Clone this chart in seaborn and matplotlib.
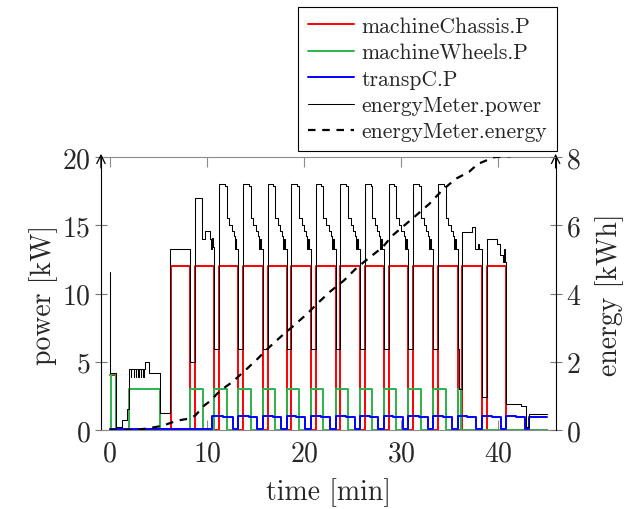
import matplotlib
matplotlib.use('Agg')
import matplotlib.pyplot as plt
import seaborn as sns
import pandas as pd

# step series: each value holds from its time until the next one (time in min, power in kW)
chassis_t = [0, 0.65, 6.3, 8.3, 8.8, 10.75, 11.25, 13.25, 13.75, 15.75, 16.25, 18.2, 18.7,
             20.7, 21.2, 23.25, 23.75, 25.75, 26.25, 28.2, 28.7, 30.75, 31.25, 33.3, 33.8,
             35.8, 36.3, 38.3, 38.8, 40.8, 45.0]
chassis_kw = [4.0, 0, 12, 0, 12, 0, 12, 0, 12, 0, 12, 0, 12,
              0, 12, 0, 12, 0, 12, 0, 12, 0, 12, 0, 12,
              0, 12, 0, 12, 0, 0]

wheels_t = [0, 0.1, 0.65, 1.95, 5.2, 8.3, 9.6, 10.75, 12.05, 13.25, 14.55, 15.75, 17.05,
            18.2, 19.5, 20.7, 22.0, 23.25, 24.55, 25.75, 27.05, 28.2, 29.5, 30.75, 32.05,
            33.3, 34.6, 35.8, 36.15, 45.0]
wheels_kw = [0, 4.1, 0, 3, 0, 3, 0, 3, 0, 3, 0, 3, 0,
             3, 0, 3, 0, 3, 0, 3, 0, 3, 0, 3, 0,
             3, 0, 3, 0, 0]

transp_t = [0, 10.5, 11.7, 12.7, 13.25, 14.3, 15.2, 15.75, 16.8, 17.65, 18.2, 19.2, 20.15,
            20.7, 21.7, 22.7, 23.25, 24.3, 25.2, 25.75, 26.8, 27.65, 28.2, 29.2, 30.2,
            30.75, 31.8, 32.75, 33.3, 34.3, 35.25, 35.8, 36.8, 37.75, 38.3, 39.3, 40.3,
            40.8, 41.8, 42.75, 43.2, 45.0]
transp_kw = [0.1, 1.05, 0.95, 0.1, 1.05, 0.95, 0.1, 1.05, 0.95, 0.1, 1.05, 0.95, 0.1,
             1.05, 0.95, 0.1, 1.05, 0.95, 0.1, 1.05, 0.95, 0.1, 1.05, 0.95, 0.1,
             1.05, 0.95, 0.1, 1.05, 0.95, 0.1, 1.05, 0.95, 0.1, 1.05, 0.95, 0.1,
             1.05, 0.95, 0.1, 0.95, 0.95]

meter_t = [0, 0.06, 0.65, 1.25, 1.75,
           1.95, 2.2, 2.23, 2.45, 2.48, 2.7, 2.73, 2.95, 2.98, 3.2, 3.23, 3.45, 3.48,
           3.66, 4.05, 5.2, 6.25, 8.3,
           8.8, 9.55, 9.8, 10.35, 10.45, 10.55, 10.65, 10.75,
           11.25, 11.85, 12.05, 12.3, 12.6, 12.75, 12.85, 12.95, 13.05, 13.25,
           13.75, 14.35, 14.55, 14.8, 15.05, 15.25, 15.35, 15.45, 15.55, 15.75,
           16.25, 16.85, 17.05, 17.3, 17.55, 17.7, 17.8, 17.9, 18.0, 18.2,
           18.7, 19.3, 19.5, 19.75, 20.0, 20.2, 20.3, 20.4, 20.5, 20.7,
           21.2, 21.8, 22.0, 22.25, 22.55, 22.75, 22.85, 22.95, 23.05, 23.25,
           23.75, 24.35, 24.55, 24.8, 25.05, 25.25, 25.35, 25.45, 25.55, 25.75,
           26.25, 26.85, 27.05, 27.3, 27.55, 27.7, 27.8, 27.9, 28.0, 28.2,
           28.7, 29.3, 29.5, 29.75, 30.0, 30.25, 30.35, 30.45, 30.55, 30.75,
           31.25, 31.85, 32.05, 32.3, 32.6, 32.8, 32.9, 33.0, 33.1, 33.3,
           33.8, 34.4, 34.6, 34.85, 35.1, 35.3, 35.4, 35.5, 35.6, 35.8, 35.95,
           36.3, 37.3, 37.65, 37.9, 38.0, 38.3,
           38.8, 39.9, 40.2, 40.5, 40.6, 40.65, 40.8,
           42.3, 42.8, 43.15, 45.0]
meter_kw = [11.6, 4.15, 0.2, 0.7, 1.5,
            4.5, 3.9, 4.5, 3.9, 4.5, 3.9, 4.5, 3.9, 4.5, 3.9, 4.5, 3.9, 4.5,
            4.95, 4.2, 1.25, 13.25, 4.96,
            16.97, 14.0, 14.6, 14.0, 13.3, 14.1, 13.4, 5.93,
            18.0, 17.9, 15.5, 15.0, 14.6, 14.2, 13.3, 14.0, 13.3, 5.93,
            18.0, 17.9, 15.5, 15.0, 14.6, 14.2, 13.3, 14.0, 13.3, 5.93,
            18.0, 17.9, 15.5, 15.0, 14.6, 14.2, 13.3, 14.0, 13.3, 5.93,
            18.0, 17.9, 15.5, 15.0, 14.6, 14.2, 13.3, 14.0, 13.3, 5.93,
            18.0, 17.9, 15.5, 15.0, 14.6, 14.2, 13.3, 14.0, 13.3, 5.93,
            18.0, 17.9, 15.5, 15.0, 14.6, 14.2, 13.3, 14.0, 13.3, 5.93,
            18.0, 17.9, 15.5, 15.0, 14.6, 14.2, 13.3, 14.0, 13.3, 5.93,
            18.0, 17.9, 15.5, 15.0, 14.6, 14.2, 13.3, 14.0, 13.3, 5.93,
            18.0, 17.9, 15.5, 15.0, 14.6, 14.2, 13.3, 14.0, 13.3, 5.93,
            18.0, 17.9, 15.5, 15.0, 14.6, 14.2, 13.3, 14.0, 13.3, 5.93, 3.0,
            14.5, 14.9, 13.3, 13.6, 13.3, 2.4,
            14.0, 13.6, 12.8, 12.3, 13.3, 12.3, 1.9,
            1.78, 0.2, 1.15, 1.15]

# energy (kWh), right axis
energy_t = [0, 2.5, 3.8, 5.4, 6.4, 7.3, 8.1, 8.8, 9.7, 10.4, 11.05, 11.6, 12.6, 14.0,
            15.2, 16.4, 17.75, 18.95, 20.3, 21.5, 22.7, 24.1, 25.3, 26.5, 28.1, 29.1,
            30.3, 31.7, 32.9, 34.2, 35.6, 37.0, 37.9, 39.6, 41.3, 42.0, 45.0]
energy_kwh = [0, 0, 0.04, 0.12, 0.22, 0.29, 0.33, 0.42, 0.71, 0.86, 1.06, 1.2, 1.4, 1.76,
              2.08, 2.42, 2.77, 3.06, 3.4, 3.74, 4.06, 4.38, 4.72, 5.0, 5.36, 5.7,
              5.99, 6.33, 6.63, 7.02, 7.36, 7.57, 7.8, 8.0, 8.03, 8.06, 8.12]

labels = ['machineChassis.P', 'machineWheels.P', 'transpC.P',
          'energyMeter.power', 'energyMeter.energy']

sns.set_theme(style='white')
plt.rcParams['font.family'] = ['cmr10', 'DejaVu Serif']
plt.rcParams['axes.formatter.use_mathtext'] = True
plt.rcParams['mathtext.fontset'] = 'cm'

fig = plt.figure(figsize=(6.35, 5.1), dpi=100)
ax = fig.add_axes([0.159, 0.155, 0.716, 0.535])
ax2 = ax.twinx()


def step_line(axis, t, v, color, lw):
    df = pd.DataFrame({'t': t, 'v': v})
    sns.lineplot(data=df, x='t', y='v', ax=axis, color=color, linewidth=lw,
                 drawstyle='steps-post', estimator=None, sort=False, legend=False)
    line = axis.lines[-1]
    line.set_clip_on(False)
    return line


handles = [
    step_line(ax, chassis_t, chassis_kw, '#ff0000', 1.4),
    step_line(ax, wheels_t, wheels_kw, '#2cb34a', 1.4),
    step_line(ax, transp_t, transp_kw, '#0000ff', 1.4),
    step_line(ax, meter_t, meter_kw, 'black', 0.75),
]
sns.lineplot(x=energy_t, y=energy_kwh, ax=ax2, color='black', linewidth=1.6,
             estimator=None, sort=False, legend=False)
eline = ax2.lines[-1]
eline.set_linestyle((0, (3.4, 3.0)))
handles.append(eline)

ax.set_xlim(-0.9, 45.9)
ax.set_ylim(0, 20)
ax2.set_ylim(0, 8)
ax.set_xticks([0, 10, 20, 30, 40])
ax.set_yticks([0, 5, 10, 15, 20])
ax2.set_yticks([0, 2, 4, 6, 8])

for side in ['top', 'bottom']:
    ax.spines[side].set_color('#8c8c8c')
    ax.spines[side].set_linewidth(0.8)
    ax2.spines[side].set_visible(False)
ax.spines['right'].set_visible(False)
ax2.spines['left'].set_visible(False)
ax.spines['left'].set_color('black')
ax2.spines['right'].set_color('black')
ax.spines['left'].set_linewidth(0.8)
ax2.spines['right'].set_linewidth(0.8)

ax.tick_params(axis='y', direction='inout', length=9, width=0.8, color='#777777',
               labelsize=20, pad=3, left=True)
ax.tick_params(axis='x', direction='in', length=7, width=0.8, color='#8c8c8c',
               labelsize=20, pad=7, top=True, bottom=True)
ax2.tick_params(axis='y', direction='inout', length=9, width=0.8, color='#777777',
                labelsize=20, pad=3, right=True)

ax.set_xlabel('time [min]', fontsize=20, labelpad=8)
ax.set_ylabel('power [kW]', fontsize=20, labelpad=3)
ax2.set_ylabel('energy [kWh]', fontsize=20, labelpad=10)

for xpos in [0, 1]:
    ax.annotate('', xy=(xpos, 1.012), xytext=(xpos, 0.96), xycoords='axes fraction',
                arrowprops=dict(arrowstyle='->,head_length=0.5,head_width=0.25',
                                color='black', lw=0.9, shrinkA=0, shrinkB=0),
                annotation_clip=False)

leg = fig.legend(handles, labels, loc='upper right', bbox_to_anchor=(0.877, 0.985),
                 frameon=True, fancybox=False, edgecolor='black', framealpha=1,
                 fontsize=15.5, handlelength=2.15, borderpad=0.45, labelspacing=0.32,
                 handletextpad=0.35, borderaxespad=0)
leg.get_frame().set_linewidth(0.8)

fig.savefig('out.png', dpi=100)
